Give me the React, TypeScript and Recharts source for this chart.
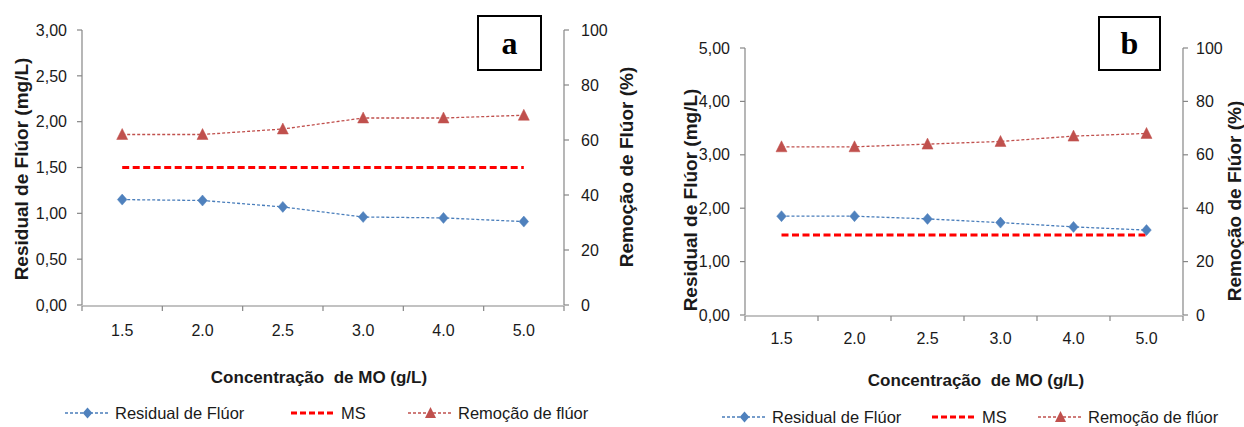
import React from 'react';
import { LineChart, Line, XAxis, YAxis, Label } from 'recharts';

const concentrations = ['1.5', '2.0', '2.5', '3.0', '4.0', '5.0'];
const residualA = [1.15, 1.14, 1.07, 0.96, 0.95, 0.91];
const remocaoA = [62, 62, 64, 68, 68, 69];
const msA = [1.5, 1.5, 1.5, 1.5, 1.5, 1.5];
const residualB = [1.85, 1.85, 1.8, 1.73, 1.65, 1.59];
const remocaoB = [63, 63, 64, 65, 67, 68];
const msB = [1.5, 1.5, 1.5, 1.5, 1.5, 1.5];
const leftTicksA = [0, 0.5, 1, 1.5, 2, 2.5, 3];
const leftTicksB = [0, 1, 2, 3, 4, 5];
const rightTicks = [0, 20, 40, 60, 80, 100];
const frameTicks = [0, 1, 2, 3, 4, 5, 6];

const legendNames = ['Residual de Flúor', 'MS', 'Remoção de flúor'];
const xTitle = 'Concentração  de MO (g/L)';
const yLeftTitle = 'Residual de Flúor (mg/L)';
const yRightTitle = 'Remoção de Flúor (%)';

const dataA = concentrations.map((c, i) => ({ conc: c, slot: i + 0.5, residual: residualA[i], remocao: remocaoA[i], ms: msA[i] }));
const dataB = concentrations.map((c, i) => ({ conc: c, slot: i + 0.5, residual: residualB[i], remocao: remocaoB[i], ms: msB[i] }));

const FONT = '"Liberation Sans", Arial, sans-serif';
const BLUE = '#4a7ebb';
const BLUE_FILL = '#4f81bd';
const RED = '#c0504d';
const MS_RED = '#ff0000';
const AXIS = '#868686';
const TEXT = '#1a1a1a';

const fmtComma = (v: number) => v.toFixed(2).replace('.', ',');
const blank = () => '';

const Diamond = (props: any) => {
  const { cx, cy } = props;
  if (cx == null || cy == null) return null;
  return <path d={`M${cx},${cy - 5.5} L${cx + 4.8},${cy} L${cx},${cy + 5.5} L${cx - 4.8},${cy} Z`} fill={BLUE_FILL} stroke={BLUE_FILL} strokeWidth={0.5} />;
};

const Triangle = (props: any) => {
  const { cx, cy } = props;
  if (cx == null || cy == null) return null;
  return <path d={`M${cx},${cy - 6} L${cx + 5.5},${cy + 5} L${cx - 5.5},${cy + 5} Z`} fill={RED} stroke={RED} strokeWidth={0.5} />;
};

const VTitle = ({ x, y, text, size }: { x: number; y: number; text: string; size: number }) => (
  <text x={x} y={y} transform={`rotate(-90 ${x} ${y})`} textAnchor="middle" dominantBaseline="central" fontFamily={FONT} fontWeight="bold" fontSize={size} fill={TEXT}>
    {text}
  </text>
);

const HTitle = ({ x, y, text }: { x: number; y: number; text: string }) => (
  <text x={x} y={y} textAnchor="middle" dominantBaseline="central" fontFamily={FONT} fontWeight="bold" fontSize={17} fill={TEXT} style={{ whiteSpace: 'pre' }}>
    {text}
  </text>
);

type PanelProps = {
  data: any[];
  width: number;
  top: number;
  bottom: number;
  leftW: number;
  rightW: number;
  pad: number;
  leftDomain: [number, number];
  leftTicks: number[];
  catMargin: number;
  rightTickMargin: number;
  xt: [number, number];
  ylt: [number, number];
  yrt: [number, number];
};

const Panel = (p: PanelProps) => (
  <LineChart width={p.width} height={427} data={p.data} margin={{ top: p.top, right: 0, bottom: p.bottom - 2, left: 0 }}>
    <XAxis
      xAxisId="frame"
      dataKey="slot"
      type="number"
      domain={[0, 6]}
      ticks={frameTicks}
      interval={0}
      allowDataOverflow
      height={1}
      tickFormatter={blank}
      tickSize={5}
      stroke={AXIS}
      axisLine={{ stroke: AXIS, strokeWidth: 1.2 }}
      tickLine={{ stroke: AXIS, strokeWidth: 1.2 }}
    />
    <XAxis
      xAxisId="cat"
      dataKey="conc"
      type="category"
      scale="point"
      padding={{ left: p.pad, right: p.pad }}
      height={1}
      axisLine={false}
      tickLine={false}
      tickSize={0}
      tickMargin={p.catMargin - 1}
      interval={0}
      tick={{ fontSize: 16, fontFamily: FONT, fill: TEXT }}
    >
      <Label content={() => <HTitle x={p.xt[0]} y={p.xt[1]} text={xTitle} />} />
    </XAxis>
    <YAxis
      yAxisId="L"
      orientation="left"
      width={p.leftW}
      domain={p.leftDomain}
      ticks={p.leftTicks}
      interval={0}
      tickFormatter={fmtComma}
      tickSize={5}
      tickMargin={10}
      axisLine={{ stroke: AXIS, strokeWidth: 1.2 }}
      tickLine={{ stroke: AXIS, strokeWidth: 1.2 }}
      tick={{ fontSize: 16, fontFamily: FONT, fill: TEXT }}
    >
      <Label content={() => <VTitle x={p.ylt[0]} y={p.ylt[1]} text={yLeftTitle} size={19} />} />
    </YAxis>
    <YAxis
      yAxisId="R"
      orientation="right"
      width={p.rightW}
      domain={[0, 100]}
      ticks={rightTicks}
      interval={0}
      tickSize={5}
      tickMargin={p.rightTickMargin}
      axisLine={{ stroke: AXIS, strokeWidth: 1.2 }}
      tickLine={{ stroke: AXIS, strokeWidth: 1.2 }}
      tick={{ fontSize: 16, fontFamily: FONT, fill: TEXT }}
    >
      <Label content={() => <VTitle x={p.yrt[0]} y={p.yrt[1]} text={yRightTitle} size={19} />} />
    </YAxis>
    <Line xAxisId="frame" yAxisId="L" dataKey="ms" stroke="none" strokeWidth={0} dot={false} activeDot={false} legendType="none" isAnimationActive={false} />
    <Line xAxisId="cat" yAxisId="L" dataKey="ms" stroke={MS_RED} strokeWidth={3} strokeDasharray="7 3.5" dot={false} activeDot={false} isAnimationActive={false} />
    <Line xAxisId="cat" yAxisId="L" dataKey="residual" stroke={BLUE} strokeWidth={1.3} strokeDasharray="3 2" dot={<Diamond />} activeDot={false} isAnimationActive={false} />
    <Line xAxisId="cat" yAxisId="R" dataKey="remocao" stroke={RED} strokeWidth={1.3} strokeDasharray="3 2" dot={<Triangle />} activeDot={false} isAnimationActive={false} />
  </LineChart>
);

const LegendItem = ({ x, y, kind, text }: { x: number; y: number; kind: number; text: string }) => (
  <div style={{ position: 'absolute', left: x, top: y - 12, height: 24, display: 'flex', alignItems: 'center', whiteSpace: 'nowrap' }}>
    <svg width={46} height={24} style={{ display: 'block' }}>
      {kind === 0 && (
        <g>
          <line x1={0} y1={12} x2={45} y2={12} stroke={BLUE} strokeWidth={1.3} strokeDasharray="3 2" />
          <path d="M22.5,6.5 L27.3,12 L22.5,17.5 L17.7,12 Z" fill={BLUE_FILL} />
        </g>
      )}
      {kind === 1 && <line x1={0} y1={12} x2={45} y2={12} stroke={MS_RED} strokeWidth={3} strokeDasharray="6 3" />}
      {kind === 2 && (
        <g>
          <line x1={0} y1={12} x2={45} y2={12} stroke={RED} strokeWidth={1.3} strokeDasharray="3 2" />
          <path d="M22.5,6 L28,17 L17,17 Z" fill={RED} />
        </g>
      )}
    </svg>
    <span style={{ fontFamily: FONT, fontSize: 16.5, color: TEXT, marginLeft: 4 }}>{text}</span>
  </div>
);

const LetterBox = ({ x, y, w, h, letter }: { x: number; y: number; w: number; h: number; letter: string }) => (
  <div
    style={{
      position: 'absolute',
      left: x,
      top: y,
      width: w,
      height: h,
      boxSizing: 'border-box',
      border: '2px solid #000',
      background: '#fff',
      display: 'flex',
      alignItems: 'center',
      justifyContent: 'center',
      fontFamily: '"Liberation Serif", "Times New Roman", serif',
      fontWeight: 'bold',
      fontSize: 32,
      color: '#000',
    }}
  >
    {letter}
  </div>
);

export default function App() {
  return (
    <div style={{ position: 'absolute', left: 0, top: 0, width: 1244, height: 427, background: '#fff', overflow: 'hidden' }}>
      <div style={{ position: 'absolute', left: 0, top: 0 }}>
        <Panel
          data={dataA}
          width={650}
          top={30}
          bottom={122}
          leftW={82}
          rightW={86}
          pad={40.2}
          leftDomain={[0, 3]}
          leftTicks={leftTicksA}
          catMargin={21}
          rightTickMargin={12}
          xt={[319, 377]}
          ylt={[21, 169]}
          yrt={[626, 167]}
        />
      </div>
      <div style={{ position: 'absolute', left: 650, top: 0 }}>
        <Panel
          data={dataB}
          width={594}
          top={48}
          bottom={112}
          leftW={95}
          rightW={61}
          pad={36.5}
          leftDomain={[0, 5]}
          leftTicks={leftTicksB}
          catMargin={19}
          rightTickMargin={8}
          xt={[326, 380]}
          ylt={[40, 200]}
          yrt={[584, 201]}
        />
      </div>
      <LetterBox x={477} y={15} w={65} h={56} letter="a" />
      <LetterBox x={1098} y={16} w={63} h={55} letter="b" />
      <LegendItem x={65} y={413} kind={0} text={legendNames[0]} />
      <LegendItem x={291} y={413} kind={1} text={legendNames[1]} />
      <LegendItem x={408} y={413} kind={2} text={legendNames[2]} />
      <LegendItem x={722} y={417} kind={0} text={legendNames[0]} />
      <LegendItem x={932} y={417} kind={1} text={legendNames[1]} />
      <LegendItem x={1038} y={417} kind={2} text={legendNames[2]} />
    </div>
  );
}
